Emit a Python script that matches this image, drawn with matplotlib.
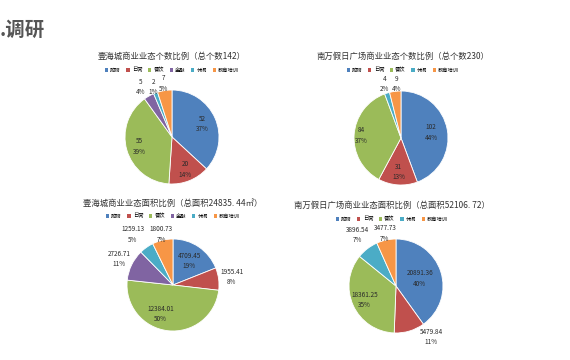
import numpy as np
import matplotlib.pyplot as plt
from matplotlib.patches import Patch

plt.rcParams['font.family'] = ['Noto Sans CJK SC', 'DejaVu Sans']

# 数据
cats_a = ['购物', '日常', '餐饮', '金融', '休闲', '教育培训']
cats_b = ['购物', '日常', '餐饮', '休闲', '教育培训']
count_a = [52, 20, 55, 5, 2, 7]
count_b = [102, 31, 84, 4, 9]
area_a = [4709.45, 1955.41, 12384.01, 2726.71, 1259.13, 1800.73]
area_b = [20891.36, 5479.84, 18361.25, 3896.54, 3477.73]
area_a_txt = ['4709.45', '1955.41', '12384.01', '2726.71', '1259.13', '1800.73']
area_b_txt = ['20891.36', '5479.84', '18361.25', '3896.54', '3477.73']

colors = {'购物': '#4F81BD', '日常': '#C0504D', '餐饮': '#9BBB59',
          '金融': '#8064A2', '休闲': '#4BACC6', '教育培训': '#F79646'}

W, H = 570, 360
fig = plt.figure(figsize=(W / 100, H / 100), dpi=100)

fig.text(0, 1 - 30 / H, '.调研', fontsize=14, fontweight='bold',
         color='#555555', va='center', ha='left')


def draw(cx, cy, r, title, tx, ty, ly, cats, vals, txts, dists, shifts):
    ax = fig.add_axes([(cx - r) / W, 1 - (cy + r) / H, 2 * r / W, 2 * r / H])
    cols = [colors[c] for c in cats]
    ax.pie(vals, colors=cols, startangle=90, counterclock=False, radius=1,
           wedgeprops=dict(edgecolor='white', linewidth=0.6))
    ax.set_xlim(-1, 1)
    ax.set_ylim(-1, 1)
    ax.set_aspect('equal')
    ax.axis('off')
    total = sum(vals)
    start = 90.0
    for v, t, d, s in zip(vals, txts, dists, shifts):
        span = 360.0 * v / total
        mid = np.deg2rad(start - span / 2)
        start -= span
        pct = '%d%%' % round(100 * v / total)
        ax.text(d * np.cos(mid) + s, d * np.sin(mid), t + '\n' + pct,
                ha='center', va='center', fontsize=4.6, color='#2a2a2a',
                linespacing=1.4, clip_on=False)
    fig.text(tx / W, 1 - ty / H, title, ha='center', va='center',
             fontsize=6, color='#333333')
    handles = [Patch(facecolor=colors[c], edgecolor='none') for c in cats]
    fig.legend(handles, cats, loc='center', bbox_to_anchor=(tx / W, 1 - ly / H),
               ncol=len(cats), fontsize=3.8, frameon=False, handlelength=0.6,
               handleheight=0.6, handletextpad=0.4, columnspacing=1.1,
               borderpad=0.1)


draw(172, 137, 47, '壹海城商业业态个数比例（总个数142）', 172, 56, 70,
     cats_a, count_a, [str(v) for v in count_a],
     [0.7, 0.74, 0.73, 1.22, 1.14, 1.15], [0, 0, 0, -0.08, 0, 0])
draw(401, 138, 47, '南万假日广场商业业态个数比例（总个数230）', 403, 56, 70,
     cats_b, count_b, [str(v) for v in count_b],
     [0.65, 0.72, 0.84, 1.2, 1.16], [0, 0, 0, 0, 0.04])
draw(173, 285, 46, '壹海城商业业态面积比例（总面积24835. 44㎡）', 173, 203, 216,
     cats_a, area_a, area_a_txt,
     [0.63, 1.29, 0.64, 1.3, 1.34, 1.13], [0, 0, -0.2, 0, -0.1, 0])
draw(396, 286, 47, '南万假日广场商业业态面积比例（总面积52106. 72）', 392, 205, 219,
     cats_b, area_b, area_b_txt,
     [0.53, 1.13, 0.73, 1.36, 1.14], [0, 0.42, 0, 0, 0])

fig.savefig('out.png', dpi=100, facecolor='white')
